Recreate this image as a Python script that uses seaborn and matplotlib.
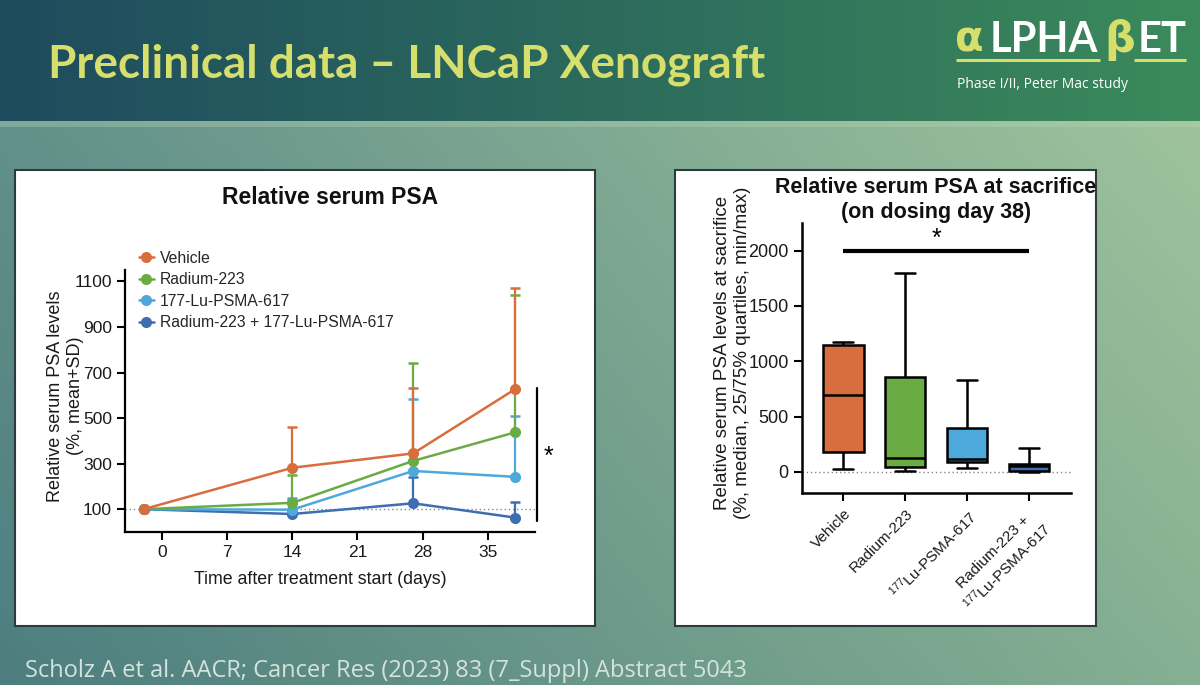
import numpy as np
import pandas as pd
import matplotlib
matplotlib.use("Agg")
import matplotlib.pyplot as plt
import seaborn as sns
from matplotlib.patches import Rectangle

# ---------------- data ----------------
days = [-2, 14, 27, 38]
groups = ["Vehicle", "Radium-223", "177-Lu-PSMA-617", "Radium-223 + 177-Lu-PSMA-617"]
vehicle_mean = [100, 282, 345, 628]
vehicle_sd = [0, 180, 285, 442]
radium_mean = [100, 128, 312, 438]
radium_sd = [0, 122, 430, 602]
lu_mean = [100, 98, 268, 242]
lu_sd = [0, 50, 317, 265]
combo_mean = [100, 79, 126, 63]
combo_sd = [0, 60, 114, 70]

x_ticks = [0, 7, 14, 21, 28, 35]
y_ticks_left = [100, 300, 500, 700, 900, 1100]

box_groups = ["Vehicle", "Radium-223", "$^{177}$Lu-PSMA-617", "Radium-223 +\n$^{177}$Lu-PSMA-617"]
# min, 25%, median, 75%, max
vehicle_box = [30, 185, 700, 1145, 1175]
radium_box = [5, 45, 125, 862, 1795]
lu_box = [37, 90, 120, 397, 830]
combo_box = [0, 10, 58, 75, 220]
y_ticks_right = [0, 500, 1000, 1500, 2000]

colors = ["#D86D3D", "#6AAB44", "#4DA8DB", "#3D6EB0"]

# ---------------- style ----------------
sns.set_theme(style="ticks")
plt.rcParams["font.family"] = ["Liberation Sans", "DejaVu Sans"]
plt.rcParams["mathtext.default"] = "regular"

W, H = 1200, 685
fig = plt.figure(figsize=(12, 6.85), dpi=100)

# ---------------- background ----------------
bg = fig.add_axes([0, 0, 1, 1], zorder=0)
img = np.zeros((H, W, 3))
xs = np.linspace(0, 1, W)[None, :, None]
def c(h):
    return np.array([int(h[i:i + 2], 16) / 255 for i in (1, 3, 5)])
hl, hr = c("#1E4B5E"), c("#3B8A5B")
img[:121] = (hl * (1 - xs) + hr * xs)
sl, sr = c("#7EA89A"), c("#A6CAA3")
img[121:127] = (sl * (1 - xs) + sr * xs)
ys = np.linspace(0, 1, H - 127)[:, None, None]
tl, tr, bl, br = c("#62908A"), c("#9EC39C"), c("#4D7E7F"), c("#86B093")
img[127:] = (tl * (1 - xs) * (1 - ys) + tr * xs * (1 - ys) + bl * (1 - xs) * ys + br * xs * ys)
bg.imshow(img, extent=[0, W, H, 0], aspect="auto")
bg.set_xlim(0, W)
bg.set_ylim(H, 0)
bg.axis("off")
bg.add_patch(Rectangle((15, 170), 580, 456, facecolor="white", edgecolor="#2C3B3B", lw=1.5))
bg.add_patch(Rectangle((675, 170), 421, 456, facecolor="white", edgecolor="#2C3B3B", lw=1.5))

# header texts
def fx(x):
    return x / W
def fy(y):
    return 1 - y / H

fig.text(fx(48), fy(78), "Preclinical data \u2013 LNCaP Xenograft", family=["Lato", "DejaVu Sans"],
         fontweight="bold", fontsize=33, color="#D6DF6C", va="baseline", ha="left")
fig.text(fx(955), fy(52), "\u03b1", family=["DejaVu Sans"], fontweight="bold", fontsize=30,
         color="#D6DF6C", va="baseline", ha="left")
fig.text(fx(990), fy(52), "LPHA", family=["Lato", "DejaVu Sans"], fontweight="bold", fontsize=30,
         color="white", va="baseline", ha="left")
fig.text(fx(1104), fy(52), "\u03b2", family=["DejaVu Sans"], fontweight="bold", fontsize=31,
         color="#D6DF6C", va="baseline", ha="left")
fig.text(fx(1138), fy(52), "ET", family=["Lato", "DejaVu Sans"], fontweight="bold", fontsize=30,
         color="white", va="baseline", ha="left")
bg.plot([956, 1100], [60, 60], color="#D6DF6C", lw=2.2, solid_capstyle="butt")
bg.plot([1134, 1186], [60, 60], color="#D6DF6C", lw=2.2, solid_capstyle="butt")
fig.text(fx(957), fy(88), "Phase I/II, Peter Mac study", family=["Open Sans", "DejaVu Sans"],
         fontsize=10, color="white", va="baseline", ha="left")
fig.text(fx(25), fy(677), "Scholz A et al. AACR; Cancer Res (2023) 83 (7_Suppl) Abstract 5043",
         family=["Open Sans", "DejaVu Sans"], fontsize=17, color="#D5E3DF", va="baseline", ha="left")

# ---------------- left chart ----------------
axL = fig.add_axes([fx(125), fy(532), (535 - 125) / W, (532 - 270) / H], zorder=2)
axL.set_facecolor("none")
means = [vehicle_mean, radium_mean, lu_mean, combo_mean]
sds = [vehicle_sd, radium_sd, lu_sd, combo_sd]
for i in range(3, -1, -1):
    z = 10 - i * 2
    sns.lineplot(x=days, y=means[i], color=colors[i], marker="o", markersize=8,
                 markeredgewidth=0, linewidth=1.8, ax=axL, zorder=z, label=groups[i])
    axL.errorbar(days, means[i], yerr=[np.zeros(len(days)), sds[i]], fmt="none",
                 ecolor=colors[i], elinewidth=1.6, capsize=3.5, capthick=1.8, zorder=z - 0.5)
axL.axhline(100, color="#888888", ls=(0, (1, 2)), lw=1, zorder=1)
h, l = axL.get_legend_handles_labels()
order = [l.index(g) for g in groups]
axL.legend([h[k] for k in order], [l[k] for k in order], loc="upper left",
           bbox_to_anchor=(0.01, 1.11), frameon=False, fontsize=11.3, handlelength=1.0,
           handletextpad=0.35, labelspacing=0.42, borderaxespad=0.2)
axL.set_xlim(-4, 40.1)
axL.set_ylim(0, 1150)
axL.set_xticks(x_ticks)
axL.set_yticks(y_ticks_left)
axL.tick_params(axis="both", labelsize=12.5, length=6, width=1.5, color="black", labelcolor="#1a1a1a")
for s in ["top", "right"]:
    axL.spines[s].set_visible(False)
for s in ["left", "bottom"]:
    axL.spines[s].set_linewidth(1.6)
    axL.spines[s].set_color("black")
axL.set_xlabel("Time after treatment start (days)", fontsize=12.8, color="#1a1a1a")
axL.xaxis.set_label_coords(0.476, -0.15)
axL.set_ylabel("Relative serum PSA levels\n(%, mean+SD)", fontsize=13, color="#1a1a1a")
axL.yaxis.set_label_coords(-0.10, 0.52)
axL.plot([40.3, 40.3], [49, 634], color="black", lw=1.6, clip_on=False)
axL.text(41.5, 330, "*", fontsize=18, ha="center", va="center", color="black")
fig.text(fx(330), fy(197), "Relative serum PSA", fontsize=16.5, fontweight="bold",
         ha="center", va="center", color="#111111")

# ---------------- right chart ----------------
axR = fig.add_axes([fx(802), fy(493), (1071 - 802) / W, (493 - 223) / H], zorder=2)
axR.set_facecolor("none")
box_df = pd.DataFrame({
    "group": np.repeat(box_groups, 5),
    "value": vehicle_box + radium_box + lu_box + combo_box,
})
sns.boxplot(data=box_df, x="group", y="value", hue="group", palette=colors, saturation=1,
            whis=(0, 100), width=0.65, linewidth=1.8, linecolor="black", fliersize=0,
            legend=False, ax=axR)
axR.axhline(0, color="#888888", ls=(0, (1, 2)), lw=1, zorder=0)
axR.set_xlim(-0.67, 3.68)
axR.set_ylim(-190, 2250)
axR.set_yticks(y_ticks_right)
axR.set_xticks(range(len(box_groups)))
axR.set_xticklabels(box_groups, rotation=45, ha="right", rotation_mode="anchor",
                    multialignment="center", fontsize=11)
axR.tick_params(axis="y", labelsize=13, length=6, width=1.5, color="black", labelcolor="#1a1a1a")
axR.tick_params(axis="x", length=6, width=1.5, color="black", labelcolor="#1a1a1a", pad=4)
for s in ["top", "right"]:
    axR.spines[s].set_visible(False)
for s in ["left", "bottom"]:
    axR.spines[s].set_linewidth(1.8)
    axR.spines[s].set_color("black")
axR.set_xlabel("")
axR.set_ylabel("Relative serum PSA levels at sacrifice\n(%, median, 25/75% quartiles, min/max)",
               fontsize=13.5, color="#1a1a1a")
axR.yaxis.set_label_coords(-0.19, 0.52)
axR.plot([0, 3], [2000, 2000], color="black", lw=3, solid_capstyle="butt")
axR.text(1.5, 2110, "*", fontsize=18, ha="center", va="center", color="black")
fig.text(fx(936), fy(200), "Relative serum PSA at sacrifice\n(on dosing day 38)", fontsize=15.5,
         fontweight="bold", ha="center", va="center", color="#111111", linespacing=1.2)

fig.savefig("out.png", dpi=100)
